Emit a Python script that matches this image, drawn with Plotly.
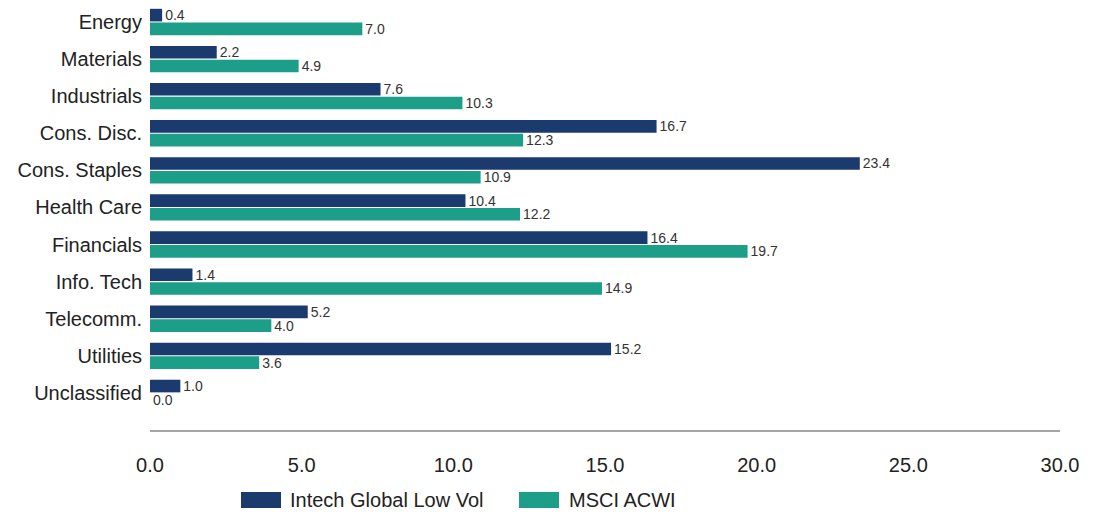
import plotly.graph_objects as go

categories = ["Energy", "Materials", "Industrials", "Cons. Disc.", "Cons. Staples",
              "Health Care", "Financials", "Info. Tech", "Telecomm.", "Utilities", "Unclassified"]
intech = [0.4, 2.2, 7.6, 16.7, 23.4, 10.4, 16.4, 1.4, 5.2, 15.2, 1.0]
msci = [7.0, 4.9, 10.3, 12.3, 10.9, 12.2, 19.7, 14.9, 4.0, 3.6, 0.0]
series_names = ["Intech Global Low Vol", "MSCI ACWI"]
x_ticks = [0, 5, 10, 15, 20, 25, 30]

navy = "#1b3a6d"
teal = "#1d9e88"
font_family = "Liberation Sans, Arial, sans-serif"

W, H = 1103, 512
ML, MR, MT, MB = 142, 51, 0, 90
PW, PH = W - ML - MR, H - MT - MB


def px_x(x):
    return (x - ML) / PW


def px_y(y):
    return (MT + PH - y) / PH


fig = go.Figure()
for name, vals, col in [(series_names[0], intech, navy), (series_names[1], msci, teal)]:
    fig.add_trace(go.Bar(
        y=categories, x=vals, orientation="h", name=name,
        marker=dict(color=col, line=dict(width=0)),
        text=[f"{v:.1f}" for v in vals], textposition="outside", constraintext="none",
        textfont=dict(size=14, color="#333333", family=font_family), cliponaxis=False,
        showlegend=False,
    ))

# manual legend (wide rectangular swatches as in the reference)
legend_items = [(series_names[0], navy, 233, 273, 280), (series_names[1], teal, 511, 551, 559)]
for name, col, x0, x1, xt in legend_items:
    fig.add_shape(type="rect", xref="paper", yref="paper",
                  x0=px_x(x0), x1=px_x(x1), y0=px_y(484), y1=px_y(500),
                  fillcolor=col, line=dict(width=0))
    fig.add_annotation(xref="paper", yref="paper", x=px_x(xt), y=px_y(492),
                       xanchor="left", yanchor="middle", showarrow=False,
                       text=name, font=dict(size=20, color="#222222", family=font_family))

fig.update_layout(
    width=W, height=H,
    margin=dict(l=ML, r=MR, t=MT, b=MB, autoexpand=False),
    paper_bgcolor="white", plot_bgcolor="white",
    font=dict(family=font_family, color="#222222"),
    barmode="group", bargap=0.26, bargroupgap=0.08,
    showlegend=False,
)
fig.update_xaxes(
    range=[0, 30], tickvals=x_ticks, ticktext=[f"{v:.1f}" for v in x_ticks],
    showgrid=False, zeroline=False, showline=True, linecolor="#a6a6a6", linewidth=2,
    ticks="", tickfont=dict(size=20, color="#222222"), ticklabelstandoff=16,
)
fig.update_yaxes(
    categoryorder="array", categoryarray=categories,
    range=[11.0, -0.377], showgrid=False, zeroline=False, showline=False,
    ticks="", tickfont=dict(size=20, color="#222222"), ticklabelstandoff=7,
)

fig.write_html("out.html")
